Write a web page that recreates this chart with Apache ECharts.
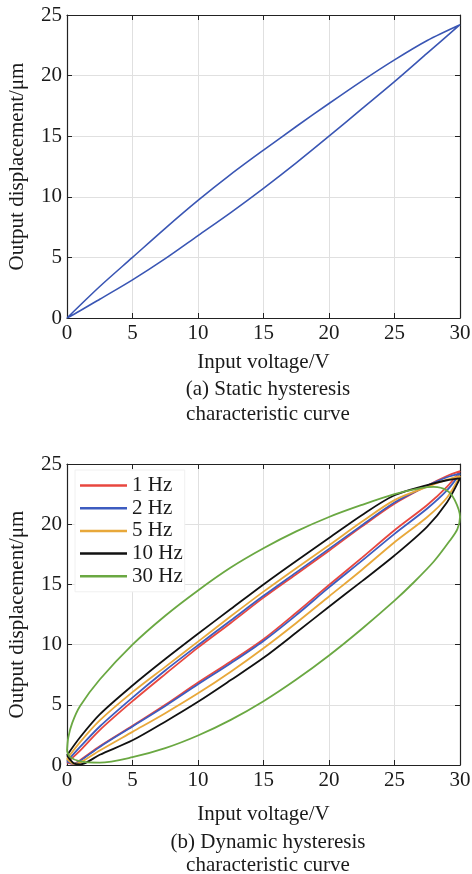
<!DOCTYPE html>
<html>
<head>
<meta charset="utf-8">
<script src="https://cdn.jsdelivr.net/npm/echarts@6/dist/echarts.min.js"></script>
<style>
  html, body { margin: 0; padding: 0; background: #fff; }
  #main { width: 472px; height: 874px; }
</style>
</head>
<body>
<div id="main"></div>
<script>
// ---- data ----
var xTicks = [0, 5, 10, 15, 20, 25, 30];
var yTicks = [0, 5, 10, 15, 20, 25];

// (a) static loop: rising branch then falling branch
var staticV = [0, 1, 2.5, 5, 7.5, 10, 12.5, 15, 17.5, 20, 22.5, 25, 27.5, 30,
               27.5, 25, 22.5, 20, 17.5, 15, 12.5, 10, 7.5, 5, 2.5, 1, 0];
var staticD = [0, 0.6, 1.55, 3.15, 4.9, 6.8, 8.7, 10.7, 12.8, 15.0, 17.25, 19.5, 21.85, 24.2,
               22.9, 21.3, 19.55, 17.7, 15.8, 13.85, 11.85, 9.7, 7.4, 5.0, 2.6, 1.05, 0];

// (b) dynamic loops, shared voltage path
var loopV = [0, 0.5, 1, 2.5, 5, 7.5, 10, 12.5, 15, 17.5, 20, 22.5, 25, 27.5, 29, 30,
             29, 27.5, 25, 22.5, 20, 17.5, 15, 12.5, 10, 7.5, 5, 2.5, 1, 0];
var d1Hz  = [0.2, 0.1, 0.4, 1.55, 3.25, 5.0, 6.85, 8.6, 10.45, 12.65, 14.95, 17.2, 19.5, 21.6, 23.1, 24.4,
             24.0, 23.2, 21.7, 19.8, 17.8, 15.85, 13.9, 11.8, 9.75, 7.55, 5.3, 2.9, 1.2, 0.2];
var d2Hz  = [0.3, 0.1, 0.35, 1.5, 3.2, 4.9, 6.7, 8.45, 10.3, 12.45, 14.75, 16.95, 19.2, 21.3, 22.8, 24.2,
             23.9, 23.2, 21.8, 19.9, 17.95, 16.0, 14.05, 12.0, 9.95, 7.85, 5.6, 3.2, 1.5, 0.3];
var d5Hz  = [0.5, 0.1, 0.2, 1.2, 2.75, 4.3, 5.95, 7.75, 9.7, 11.8, 14.0, 16.2, 18.5, 20.6, 22.2, 24.0,
             23.7, 23.1, 22.0, 20.2, 18.25, 16.35, 14.4, 12.35, 10.25, 8.15, 6.05, 3.7, 1.9, 0.5];
var d10Hz = [0.8, 0.15, 0.05, 0.85, 2.05, 3.6, 5.25, 7.05, 8.9, 11.0, 13.15, 15.25, 17.4, 19.8, 21.8, 23.8,
             23.65, 23.25, 22.4, 20.75, 18.85, 16.95, 15.0, 12.95, 10.9, 8.8, 6.6, 4.2, 2.3, 0.8];
// 30 Hz is a wide ellipse, its own path
var v30Hz = [0, 0.1, 0.4, 1, 2.5, 5, 7.5, 10, 12.5, 15, 17.5, 20, 22.5, 25, 27, 28, 29, 29.6, 30,
             29.8, 29.2, 28, 26.5, 25, 22.5, 20, 17.5, 15, 12.5, 10, 7.5, 5, 2.5, 1, 0.2, 0];
var d30Hz = [1.2, 2.3, 3.5, 4.9, 7.1, 10.0, 12.4, 14.5, 16.4, 18.0, 19.4, 20.6, 21.6, 22.5, 23.0, 23.1, 22.8, 22.0, 20.6,
             19.6, 18.6, 16.9, 15.2, 13.65, 11.3, 9.1, 7.1, 5.3, 3.75, 2.45, 1.4, 0.65, 0.2, 0.3, 0.7, 1.2];

var freqNames = ['1 Hz', '2 Hz', '5 Hz', '10 Hz', '30 Hz'];
var freqColors = ['#e8473f', '#3d5cc0', '#e8a83a', '#111111', '#6aa842'];

function pairs(xs, ys) {
  return xs.map(function (x, i) { return [x, ys[i]]; });
}

var FONT = 'Liberation Serif';
var TXT = '#1a1a1a';
var FS = 21;

function bottomX(gi, gap) {
  return {
    type: 'value', gridIndex: gi, min: 0, max: 30, interval: 5,
    name: 'Input voltage/V', nameLocation: 'middle', nameGap: gap,
    nameTextStyle: { fontFamily: FONT, fontSize: FS, color: TXT },
    axisLine: { lineStyle: { color: '#222', width: 1.2 } },
    axisTick: { inside: true, length: 5, lineStyle: { color: '#222' } },
    axisLabel: { fontFamily: FONT, fontSize: FS, color: TXT, margin: 5 },
    splitLine: { show: true, lineStyle: { color: '#e0e0e0', width: 1 } }
  };
}
function topX(gi) {
  return {
    type: 'value', gridIndex: gi, position: 'top', min: 0, max: 30, interval: 5,
    axisLine: { onZero: false, lineStyle: { color: '#222', width: 1.2 } },
    axisTick: { inside: true, length: 5, lineStyle: { color: '#222' } },
    axisLabel: { show: false }, splitLine: { show: false }
  };
}
function leftY(gi) {
  return {
    type: 'value', gridIndex: gi, min: 0, max: 25, interval: 5,
    name: 'Output displacement/\u03bcm', nameLocation: 'middle', nameGap: 39,
    nameTextStyle: { fontFamily: FONT, fontSize: FS, color: TXT },
    axisLine: { show: true, lineStyle: { color: '#222', width: 1.2 } },
    axisTick: { show: true, inside: true, length: 5, lineStyle: { color: '#222' } },
    axisLabel: { fontFamily: FONT, fontSize: FS, color: TXT, margin: 5 },
    splitLine: { show: true, lineStyle: { color: '#e0e0e0', width: 1 } }
  };
}
function rightY(gi) {
  return {
    type: 'value', gridIndex: gi, position: 'right', min: 0, max: 25, interval: 5,
    axisLine: { show: true, onZero: false, lineStyle: { color: '#222', width: 1.2 } },
    axisTick: { show: true, inside: true, length: 5, lineStyle: { color: '#222' } },
    axisLabel: { show: false }, splitLine: { show: false }
  };
}

var series = [{
  name: 'static', type: 'line', xAxisIndex: 0, yAxisIndex: 0,
  data: pairs(staticV, staticD), smooth: 0.3, showSymbol: false,
  lineStyle: { color: '#3a56b4', width: 1.6 }, itemStyle: { color: '#3a56b4' }
}];
var dyn = [pairs(loopV, d1Hz), pairs(loopV, d2Hz), pairs(loopV, d5Hz), pairs(loopV, d10Hz), pairs(v30Hz, d30Hz)];
dyn.forEach(function (d, i) {
  series.push({
    name: freqNames[i], type: 'line', xAxisIndex: 2, yAxisIndex: 2,
    data: d, smooth: 0.3, showSymbol: false,
    lineStyle: { color: freqColors[i], width: 1.8 }, itemStyle: { color: freqColors[i] }
  });
});

var chart = echarts.init(document.getElementById('main'));
chart.setOption({
  backgroundColor: '#fff',
  animation: false,
  title: [{
    text: '(a) Static hysteresis\ncharacteristic curve',
    left: 263, top: 372, textAlign: 'center',
    textStyle: { fontFamily: FONT, fontSize: FS, fontWeight: 'normal', color: TXT, lineHeight: 25 }
  }, {
    text: '(b) Dynamic hysteresis\ncharacteristic curve',
    left: 263, top: 826, textAlign: 'center',
    textStyle: { fontFamily: FONT, fontSize: FS, fontWeight: 'normal', color: TXT, lineHeight: 23 }
  }],
  legend: {
    data: freqNames, orient: 'vertical', left: 75, top: 470,
    icon: 'rect', itemWidth: 47, itemHeight: 2.5, itemGap: 1.7,
    padding: [5, 2, 5, 5],
    backgroundColor: '#fff', borderColor: '#f0f0f0', borderWidth: 1,
    textStyle: { fontFamily: FONT, fontSize: FS, color: TXT, lineHeight: 20 }
  },
  grid: [
    { left: 67, top: 15, width: 393, height: 303, containLabel: false, outerBoundsMode: 'none' },
    { left: 67, top: 464, width: 393, height: 301, containLabel: false, outerBoundsMode: 'none' }
  ],
  xAxis: [bottomX(0, 34), topX(0), bottomX(1, 39), topX(1)],
  yAxis: [leftY(0), rightY(0), leftY(1), rightY(1)],
  series: series
});
</script>
</body>
</html>
